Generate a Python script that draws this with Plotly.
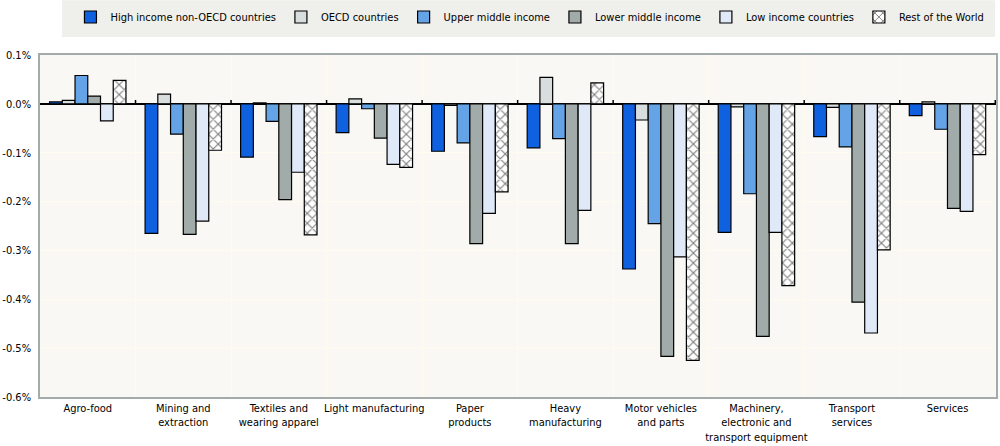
import plotly.graph_objects as go

categories = [
    "Agro-food", "Mining and<br>extraction", "Textiles and<br>wearing apparel",
    "Light manufacturing", "Paper<br>products", "Heavy<br>manufacturing",
    "Motor vehicles<br>and parts", "Machinery,<br>electronic and<br>transport equipment",
    "Transport<br>services", "Services",
]

series_names = [
    "High income non-OECD countries", "OECD countries", "Upper middle income",
    "Lower middle income", "Low income countries", "Rest of the World",
]

high_income_non_oecd = [0.004, -0.265, -0.109, -0.059, -0.097, -0.090, -0.338, -0.263, -0.067, -0.024]
oecd = [0.007, 0.020, 0.002, 0.010, -0.003, 0.054, -0.033, -0.006, -0.007, 0.004]
upper_middle = [0.058, -0.062, -0.036, -0.010, -0.080, -0.071, -0.245, -0.184, -0.088, -0.052]
lower_middle = [0.016, -0.267, -0.196, -0.070, -0.286, -0.286, -0.517, -0.476, -0.406, -0.214]
low_income = [-0.035, -0.240, -0.140, -0.124, -0.224, -0.218, -0.313, -0.263, -0.469, -0.220]
rest_of_world = [0.048, -0.095, -0.268, -0.130, -0.180, 0.043, -0.525, -0.372, -0.299, -0.104]

y_tickvals = [0.1, 0.0, -0.1, -0.2, -0.3, -0.4, -0.5, -0.6]
y_ticklabels = ["0.1%", "0.0%", "-0.1%", "-0.2%", "-0.3%", "-0.4%", "-0.5%", "-0.6%"]

series_values = [high_income_non_oecd, oecd, upper_middle, lower_middle, low_income, rest_of_world]
colors = ["#1061e0", "#d8dddd", "#64a4e6", "#a1aba9", "#dfe9f7", "#ffffff"]

FONT = "DejaVu Sans Condensed, Liberation Sans Narrow, Arial Narrow, Liberation Sans, sans-serif"

fig = go.Figure()
for name, vals, col in zip(series_names, series_values, colors):
    kw = {}
    if name == "Rest of the World":
        kw["marker_pattern"] = dict(shape="x", fgcolor="#000000", bgcolor="#ffffff",
                                    size=7, solidity=0.3, fillmode="overlay")
    fig.add_trace(go.Bar(
        x=categories, y=vals, name=name,
        marker=dict(color=col, line=dict(color="#000000", width=1.2)),
        **kw,
    ))

# small ticks on the zero line at category boundaries
for i in range(len(categories)):
    fig.add_shape(type="line", xref="x", yref="y", x0=i + 0.5, x1=i + 0.5,
                  y0=0, y1=0.008, line=dict(color="#000000", width=1.5), layer="above")

# legend background box
fig.add_shape(type="rect", xref="paper", yref="paper",
              x0=(60 - 38) / 960, x1=(997 - 38) / 960,
              y0=(398 - 37) / 343, y1=398 / 343,
              fillcolor="#efefeb", line=dict(width=0), layer="below")

fig.update_layout(
    width=1000, height=446,
    margin=dict(l=38, r=2, t=55, b=48),
    paper_bgcolor="#ffffff",
    plot_bgcolor="#f9f8f5",
    barmode="group", bargap=0.2, bargroupgap=0,
    font=dict(family=FONT, size=11, color="#000000"),
    showlegend=True,
    legend=dict(orientation="h", x=(530 - 38) / 960, xanchor="center", yref="container",
                y=1 - 17 / 446, yanchor="middle", bgcolor="rgba(0,0,0,0)",
                font=dict(family=FONT, size=11), itemwidth=30, traceorder="normal"),
    xaxis=dict(
        tickson="boundaries", showgrid=True, gridcolor="#fffbee", gridwidth=1,
        ticks="", showline=True, linecolor="#a3abab", linewidth=1.5, mirror=True,
        tickangle=0, tickfont=dict(family=FONT, size=11), fixedrange=True,
    ),
    yaxis=dict(
        range=[-0.6, 0.1], tickvals=y_tickvals, ticktext=y_ticklabels,
        showgrid=True, gridcolor="#fffbee", gridwidth=1,
        zeroline=True, zerolinecolor="#000000", zerolinewidth=2,
        showline=True, linecolor="#a3abab", linewidth=1.5, mirror=True,
        ticks="outside", ticklen=5, tickcolor="rgba(0,0,0,0)",
        tickfont=dict(family=FONT, size=11), fixedrange=True,
    ),
)

fig.write_html("out.html")
